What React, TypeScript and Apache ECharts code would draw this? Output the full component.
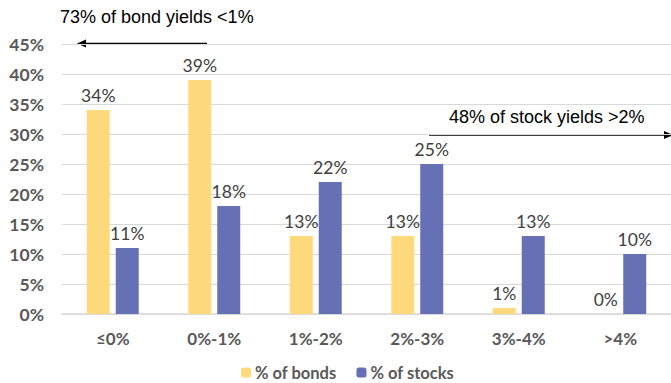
import React, { useEffect, useRef } from "react";
import * as echarts from "echarts";

const categories = ["≤0%", "0%-1%", "1%-2%", "2%-3%", "3%-4%", ">4%"];
const bonds = [34, 39, 13, 13, 1, 0];
const stocks = [11, 18, 22, 25, 13, 10];
const seriesNames = ["% of bonds", "% of stocks"];
const noteBonds = "73% of bond yields <1%";
const noteStocks = "48% of stock yields >2%";

export default function App() {
  const ref = useRef<HTMLDivElement>(null);
  useEffect(() => {
    if (!ref.current) return;
    const chart = echarts.init(ref.current, null, { renderer: "svg" });
    const labelFont = "Lato, 'Open Sans', sans-serif";
    const dataLabel = {
      show: true,
      position: "top",
      distance: 6,
      formatter: "{c}%",
      color: "#404040",
      fontSize: 17.5,
      fontFamily: labelFont,
    };
    chart.setOption({
      animation: false,
      backgroundColor: "#ffffff",
      grid: { left: 62, top: 44, width: 612, height: 270, containLabel: false },
      xAxis: {
        type: "category",
        data: categories,
        axisLine: { show: true, lineStyle: { color: "#D9D9D9", width: 1.5 } },
        axisTick: { show: false },
        axisLabel: {
          color: "#595959",
          fontWeight: "bold",
          fontSize: 17,
          fontFamily: labelFont,
          margin: 16,
        },
      },
      yAxis: {
        type: "value",
        min: 0,
        max: 45,
        interval: 5,
        axisLine: { show: false },
        axisTick: { show: false },
        splitLine: { lineStyle: { color: "#D9D9D9", width: 1 } },
        axisLabel: {
          formatter: "{value}%",
          color: "#595959",
          fontWeight: "bold",
          fontSize: 17.5,
          fontFamily: labelFont,
          margin: 18,
        },
      },
      legend: {
        left: 241,
        top: 364,
        itemWidth: 10,
        itemHeight: 10,
        itemGap: 20,
        textStyle: {
          color: "#595959",
          fontWeight: "bold",
          fontSize: 16.5,
          lineHeight: 17,
          fontFamily: labelFont,
          padding: [0, 0, 0, -1],
        },
        padding: 0,
        data: seriesNames,
      },
      series: [
        {
          name: seriesNames[0],
          type: "bar",
          data: bonds,
          barWidth: 23,
          barGap: "26%",
          itemStyle: { color: "#FFDA7C" },
          label: dataLabel,
        },
        {
          name: seriesNames[1],
          type: "bar",
          data: stocks,
          barWidth: 23,
          barGap: "26%",
          itemStyle: { color: "#6671B5" },
          label: dataLabel,
        },
      ],
      graphic: [
        {
          type: "text",
          left: 60,
          top: 8,
          style: {
            text: noteBonds,
            font: "18px 'Liberation Sans', Arial, sans-serif",
            fill: "#000000",
          },
        },
        {
          type: "line",
          shape: { x1: 207, y1: 43.5, x2: 84, y2: 43.5 },
          style: { stroke: "#000000", lineWidth: 1.5 },
        },
        {
          type: "polygon",
          shape: { points: [[77, 43.5], [86, 39.5], [86, 47.5]] },
          style: { fill: "#000000" },
        },
        {
          type: "text",
          left: 449,
          top: 108,
          style: {
            text: noteStocks,
            font: "18px 'Liberation Sans', Arial, sans-serif",
            fill: "#000000",
          },
        },
        {
          type: "line",
          shape: { x1: 429, y1: 135, x2: 665, y2: 135 },
          style: { stroke: "#000000", lineWidth: 1.5 },
        },
        {
          type: "polygon",
          shape: { points: [[673, 135], [664, 131], [664, 139]] },
          style: { fill: "#000000" },
        },
      ],
    });
    return () => chart.dispose();
  }, []);
  return (
    <div
      ref={ref}
      style={{ position: "absolute", left: 0, top: 0, width: 671, height: 383 }}
    />
  );
}
